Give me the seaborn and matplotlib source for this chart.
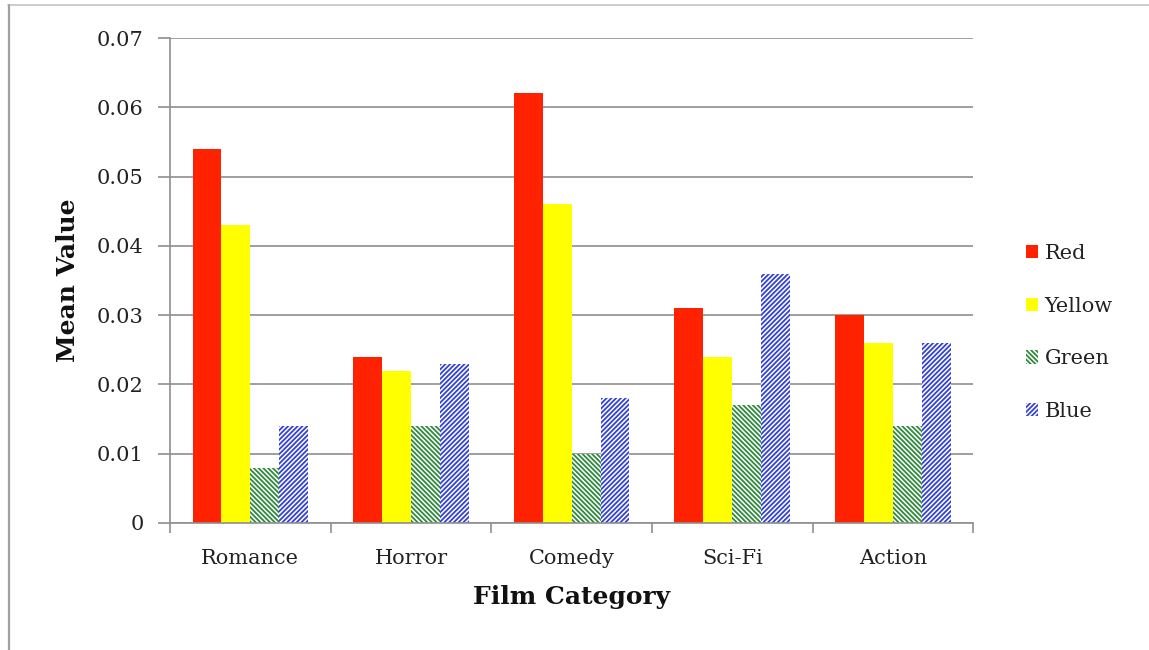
import matplotlib
matplotlib.use("Agg")
import matplotlib.pyplot as plt
from matplotlib.patches import Patch
from matplotlib.lines import Line2D
from matplotlib.ticker import FixedLocator
import seaborn as sns
import pandas as pd

# Mean values per film category for each colour
categories = ["Romance", "Horror", "Comedy", "Sci-Fi", "Action"]
series = ["Red", "Yellow", "Green", "Blue"]
red = [0.054, 0.024, 0.062, 0.031, 0.030]
yellow = [0.043, 0.022, 0.046, 0.024, 0.026]
green = [0.008, 0.014, 0.010, 0.017, 0.014]
blue = [0.014, 0.023, 0.018, 0.036, 0.026]
yticks = [0, 0.01, 0.02, 0.03, 0.04, 0.05, 0.06, 0.07]
ytick_labels = ["0", "0.01", "0.02", "0.03", "0.04", "0.05", "0.06", "0.07"]

df = pd.DataFrame({
    "Film Category": categories * 4,
    "Colour": [s for s in series for _ in categories],
    "Mean Value": red + yellow + green + blue,
})

sns.set_theme(style="white")
plt.rcParams["font.family"] = ["DejaVu Serif"]
plt.rcParams["hatch.linewidth"] = 1.3

# face colour, hatch colour, hatch pattern per series
styles = {
    "Red": ("#ff2200", "#ff2200", None),
    "Yellow": ("#ffff00", "#ffff00", None),
    "Green": ("white", "#2f8a3c", "\\" * 7),
    "Blue": ("white", "#3443d0", "/" * 7),
}

fig = plt.figure(figsize=(11.49, 6.5), dpi=100)
ax = fig.add_axes([0.148, 0.1954, 0.699, 0.7461])

sns.barplot(data=df, x="Film Category", y="Mean Value", hue="Colour",
            order=categories, hue_order=series,
            palette=[styles[s][0] for s in series],
            width=0.72, gap=0, saturation=1, legend=False, ax=ax)

for cont, s in zip(ax.containers, series):
    face, edge, hatch = styles[s]
    for bar in cont:
        bar.set_facecolor(face)
        bar.set_edgecolor(edge)
        bar.set_linewidth(0)
        if hatch:
            bar.set_hatch(hatch)

ax.set_ylim(0, 0.07)
ax.set_xlim(-0.5, len(categories) - 0.5)
ax.set_yticks(yticks)
ax.set_yticklabels(ytick_labels)
ax.grid(axis="y", color="#8f8f8f", linewidth=1.2)
ax.set_axisbelow(True)

for side in ("top", "right"):
    ax.spines[side].set_visible(False)
for side in ("left", "bottom"):
    ax.spines[side].set_color("#8f8f8f")
    ax.spines[side].set_linewidth(1.2)

ax.tick_params(axis="y", which="major", direction="out", length=9,
               width=1.2, color="#8f8f8f", pad=10, labelsize=15,
               labelcolor="#222222", left=True)
ax.xaxis.set_minor_locator(FixedLocator([i - 0.5 for i in range(len(categories) + 1)]))
ax.tick_params(axis="x", which="minor", direction="out", length=7,
               width=1.2, color="#8f8f8f", bottom=True)
ax.tick_params(axis="x", which="major", length=0, pad=19, labelsize=15,
               labelcolor="#222222")

ax.set_xlabel("Film Category", fontsize=18, fontweight="bold", labelpad=12,
              color="#111111")
ax.set_ylabel("Mean Value", fontsize=18, fontweight="bold", labelpad=12,
              color="#111111")

handles = [Patch(facecolor=styles[s][0], edgecolor=styles[s][1],
                 hatch=styles[s][2], linewidth=0, label=s) for s in series]
ax.legend(handles=handles, loc="center left", bbox_to_anchor=(1.055, 0.393),
          frameon=False, fontsize=15, handlelength=0.6, handleheight=0.6,
          handletextpad=0.3, labelspacing=1.62, borderaxespad=0,
          labelcolor="#222222")

# thin frame along the top and left edges of the canvas
fig.add_artist(Line2D([0.007, 1.0], [0.992, 0.992], transform=fig.transFigure,
                      color="#c4c4c4", linewidth=1.2))
fig.add_artist(Line2D([0.0075, 0.0075], [0.0, 0.992], transform=fig.transFigure,
                      color="#a0a0a0", linewidth=1.6))

fig.savefig("out.png", dpi=100)
